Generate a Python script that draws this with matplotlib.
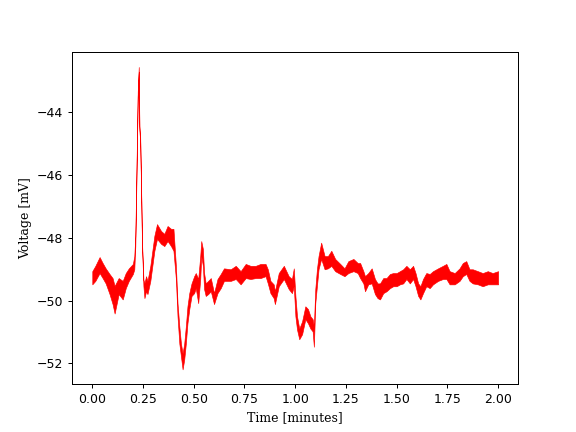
import numpy as np
import matplotlib
matplotlib.use("Agg")
from matplotlib import pyplot as plt

# Время (минуты) и огибающая шумного сигнала (мВ)
time_min = [0.0, 0.015, 0.036, 0.051, 0.066, 0.085, 0.10, 0.11, 0.13, 0.15,
            0.165, 0.18, 0.20, 0.207, 0.212, 0.216, 0.224, 0.229, 0.232, 0.236,
            0.241, 0.245, 0.252, 0.257, 0.265, 0.272, 0.286, 0.296, 0.306, 0.319,
            0.339, 0.355, 0.371, 0.388, 0.40, 0.412, 0.42, 0.429, 0.437, 0.445,
            0.453, 0.461, 0.469, 0.478, 0.489, 0.502, 0.51, 0.522, 0.532, 0.537,
            0.545, 0.551, 0.559, 0.571, 0.584, 0.60, 0.617, 0.633, 0.649, 0.682,
            0.707, 0.731, 0.756, 0.78, 0.805, 0.829, 0.854, 0.865, 0.878, 0.894,
            0.90, 0.919, 0.944, 0.968, 0.984, 0.993, 1.001, 1.009, 1.02, 1.034,
            1.05, 1.063, 1.075, 1.086, 1.092, 1.099, 1.107, 1.115, 1.128, 1.145,
            1.161, 1.178, 1.197, 1.222, 1.243, 1.262, 1.287, 1.308, 1.32, 1.336,
            1.344, 1.36, 1.377, 1.393, 1.406, 1.418, 1.434, 1.45, 1.467, 1.483,
            1.50, 1.516, 1.532, 1.548, 1.565, 1.581, 1.593, 1.606, 1.617, 1.63,
            1.646, 1.663, 1.679, 1.704, 1.728, 1.745, 1.761, 1.786, 1.81, 1.826,
            1.843, 1.859, 1.875, 1.90, 1.924, 1.949, 1.973, 2.0]

volt_hi = [-49.06, -48.89, -48.61, -48.80, -48.97, -49.15, -49.28, -49.53, -49.28, -49.37,
           -49.12, -48.97, -48.83, -48.58, -47.93, -46.49, -43.33, -42.55, -44.43, -44.74,
           -46.57, -48.13, -49.33, -49.44, -49.22, -49.37, -48.89, -48.41, -47.93, -47.56,
           -47.78, -47.87, -47.62, -47.71, -47.71, -48.89, -50.08, -50.82, -51.37, -51.68,
           -51.37, -50.82, -50.18, -49.76, -49.45, -49.22, -49.12, -49.31, -48.58, -48.10,
           -48.35, -49.12, -49.45, -49.37, -49.28, -49.76, -49.31, -49.15, -48.97, -49.00,
           -48.89, -49.06, -48.83, -48.89, -48.89, -48.83, -48.83, -49.00, -49.37, -49.48,
           -49.70, -49.12, -48.89, -49.22, -49.31, -48.97, -49.85, -50.50, -50.89, -50.66,
           -50.18, -50.27, -50.50, -50.59, -50.82, -49.63, -49.00, -48.58, -48.15, -48.58,
           -48.58, -48.41, -48.67, -48.83, -48.97, -48.74, -48.67, -48.80, -48.80, -49.06,
           -49.22, -49.12, -48.97, -49.31, -49.45, -49.45, -49.28, -49.28, -49.15, -49.12,
           -49.12, -49.06, -49.00, -48.89, -49.00, -48.89, -49.12, -49.45, -49.54, -49.31,
           -49.12, -49.15, -49.06, -48.97, -48.89, -48.83, -49.06, -49.12, -48.97, -48.80,
           -48.74, -49.00, -49.00, -49.06, -49.12, -49.06, -49.12, -49.06]

volt_lo = [-49.48, -49.37, -49.12, -49.28, -49.45, -49.79, -50.11, -50.41, -49.79, -49.96,
           -49.60, -49.37, -49.15, -49.00, -48.26, -46.75, -43.49, -42.71, -44.58, -44.90,
           -46.67, -48.24, -49.54, -49.92, -49.70, -49.79, -49.37, -48.89, -48.41, -48.03,
           -48.19, -48.26, -48.10, -48.26, -48.41, -49.31, -50.50, -51.37, -51.78, -52.19,
           -51.88, -51.37, -50.72, -50.27, -49.85, -49.76, -49.60, -50.08, -49.31, -48.58,
           -48.89, -49.63, -49.85, -49.79, -49.70, -50.11, -49.76, -49.60, -49.37, -49.37,
           -49.31, -49.48, -49.28, -49.31, -49.28, -49.28, -49.22, -49.45, -49.76, -49.92,
           -50.11, -49.54, -49.31, -49.63, -49.76, -49.54, -50.50, -50.92, -51.23, -51.07,
           -50.59, -50.72, -50.89, -50.98, -51.47, -50.08, -49.54, -49.00, -48.67, -49.00,
           -48.97, -48.89, -49.06, -49.15, -49.22, -49.12, -49.06, -49.12, -49.28, -49.45,
           -49.70, -49.48, -49.45, -49.79, -49.92, -49.96, -49.76, -49.70, -49.60, -49.54,
           -49.54, -49.48, -49.45, -49.31, -49.45, -49.31, -49.54, -49.85, -49.96, -49.76,
           -49.54, -49.60, -49.48, -49.37, -49.31, -49.31, -49.48, -49.48, -49.37, -49.22,
           -49.15, -49.37, -49.45, -49.48, -49.54, -49.48, -49.48, -49.48]

t = np.array(time_min)
hi = np.array(volt_hi)
lo = np.array(volt_lo)

fig, ax = plt.subplots(figsize=(6.4, 4.8), dpi=90)

ax.fill_between(t, lo, hi, color="red", linewidth=0.5)

ax.set_xlabel("Time [minutes]", fontfamily="serif")
ax.set_ylabel("Voltage [mV]", fontfamily="serif")

fig.savefig("out.png")
